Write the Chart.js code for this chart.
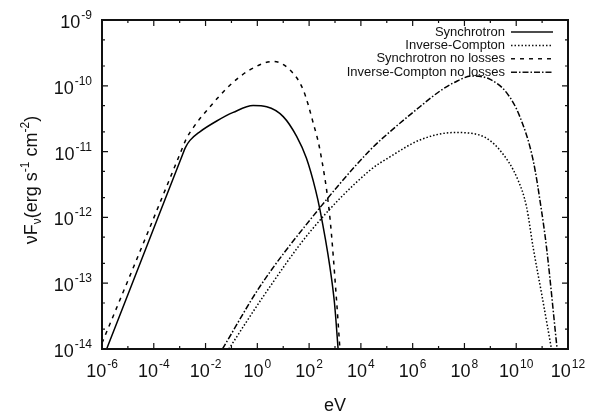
<!DOCTYPE html>
<html>
<head>
<meta charset="utf-8">
<script src="https://cdn.jsdelivr.net/npm/chart.js@4/dist/chart.umd.min.js"></script>
<style>
body{ margin:0; background:#fff; }
canvas{ display:block; }
</style>
</head>
<body>
<canvas id="chart" width="590" height="418"></canvas>
<script>

/* DATA (eV , erg s-1 cm-2) */

const syncE = [1.51e-6, 5.0e-5, 1.12e-3, 1.7e-3, 2.5e-3, 6.0e-3, 2.7e-2, 0.117, 0.69, 2.3, 10, 33, 79, 178, 263, 631, 955, 1318];
const syncF = [1e-14, 3.39e-13, 7.76e-12, 1.17e-11, 1.48e-11, 2.0e-11, 2.92e-11, 3.94e-11, 5.0e-11, 4.8e-11, 3.4e-11, 1.7e-11, 7.9e-12, 2.6e-12, 1.3e-12, 1.8e-13, 5e-14, 1e-14];

const icE = [7.9e-2, 1.7, 107, 2.24e4, 1.32e5, 1.9e6, 4.0e7, 3.9e8, 2.34e9, 1.17e10, 2.5e10, 4.5e10, 1e11, 2.3e11];
const icF = [1e-14, 6.3e-14, 6.0e-13, 5.2e-12, 8.3e-12, 1.5e-11, 1.95e-11, 1.78e-11, 1.05e-11, 3.7e-12, 1.45e-12, 3.5e-13, 6.3e-14, 1e-14];

const syncNlE = [1e-6, 3.2e-5, 1.12e-3, 1.78e-3, 3.4e-3, 1.48e-2, 8.7e-2, 0.51, 4.1, 18.2, 59, 145, 263, 631, 1148, 1549];
const syncNlF = [1.23e-14, 3.3e-13, 1.0e-11, 1.55e-11, 2.34e-11, 4.8e-11, 1.02e-10, 1.74e-10, 2.35e-10, 1.74e-10, 8.7e-11, 2.7e-11, 1.05e-11, 1.02e-12, 5.5e-14, 1e-14];

const icNlE = [4.5e-2, 1.26, 107, 2.24e4, 1.32e5, 1.9e6, 1.12e7, 4.0e7, 2.0e8, 9.5e8, 4.3e9, 1.38e10, 4.5e10, 9.5e10, 1.48e11, 3.8e11];
const icNlF = [1e-14, 8.9e-14, 9.1e-13, 1.05e-11, 2.0e-11, 4.8e-11, 8.3e-11, 1.12e-10, 1.41e-10, 1.26e-10, 7.8e-11, 3.4e-11, 7.4e-12, 1.26e-12, 3.5e-13, 1e-14];

const seriesNames = ["Synchrotron", "Inverse-Compton", "Synchrotron no losses", "Inverse-Compton no losses"];

/* TICKS */

const xLabelPowers = [-6, -4, -2, 0, 2, 4, 6, 8, 10, 12];
const xMinorPowers = [-5, -3, -1, 1, 3, 5, 7, 9, 11];
const yLabelPowers = [-14, -13, -12, -11, -10, -9];
const yMinorMantissa = [2, 5];

const FONT = '"Liberation Sans", Arial, Helvetica, sans-serif';

function toPoints(xs, ys){
    return xs.map((v, i) => ({ x: v, y: ys[i] }));
}

const dashes = [ [], [1.5, 2], [4, 5], [6, 2, 1.5, 2] ];

const datasets = [
    toPoints(syncE, syncF),
    toPoints(icE, icF),
    toPoints(syncNlE, syncNlF),
    toPoints(icNlE, icNlF)
].map((pts, i) => ({
    label: seriesNames[i],
    data: pts,
    borderColor: "#000",
    borderWidth: 1.5,
    borderDash: dashes[i],
    pointRadius: 0,
    fill: false,
    cubicInterpolationMode: "monotone"
}));

/* POWER OF TEN LABEL */

function powWidth(ctx, exp){
    ctx.font = "18px " + FONT;
    const w1 = ctx.measureText("10").width;
    ctx.font = "12px " + FONT;
    const w2 = ctx.measureText(String(exp)).width;
    return [w1, w2];
}

function drawPow(ctx, exp, left, base){
    const [w1] = powWidth(ctx, exp);
    ctx.textAlign = "left";
    ctx.textBaseline = "alphabetic";
    ctx.font = "18px " + FONT;
    ctx.fillText("10", left, base);
    ctx.font = "12px " + FONT;
    ctx.fillText(String(exp), left + w1 + 1, base - 9);
}

/* FRAME, TICKS, LABELS, LEGEND */

const framePlugin = {
    id: "frame",
    afterDraw(chart){

        const ctx = chart.ctx;
        const a = chart.chartArea;
        const xs = chart.scales.x;
        const ys = chart.scales.y;

        ctx.save();
        ctx.fillStyle = "#111";
        ctx.strokeStyle = "#111";

        // ticks
        ctx.lineWidth = 1.2;
        ctx.beginPath();
        xLabelPowers.concat(xMinorPowers).forEach(p => {
            const px = xs.getPixelForValue(Math.pow(10, p));
            const len = xLabelPowers.includes(p) ? 6 : 3;
            ctx.moveTo(px, a.bottom); ctx.lineTo(px, a.bottom - len);
            ctx.moveTo(px, a.top); ctx.lineTo(px, a.top + len);
        });
        yLabelPowers.forEach(p => {
            const py = ys.getPixelForValue(Math.pow(10, p));
            ctx.moveTo(a.left, py); ctx.lineTo(a.left + 6, py);
            ctx.moveTo(a.right, py); ctx.lineTo(a.right - 6, py);
            if(p < -9){
                yMinorMantissa.forEach(m => {
                    const pm = ys.getPixelForValue(m * Math.pow(10, p));
                    ctx.moveTo(a.left, pm); ctx.lineTo(a.left + 3, pm);
                    ctx.moveTo(a.right, pm); ctx.lineTo(a.right - 3, pm);
                });
            }
        });
        ctx.stroke();

        // border
        ctx.lineWidth = 2;
        ctx.strokeRect(a.left, a.top, a.right - a.left, a.bottom - a.top);

        // x labels
        xLabelPowers.forEach(p => {
            const px = xs.getPixelForValue(Math.pow(10, p));
            const [w1, w2] = powWidth(ctx, p);
            drawPow(ctx, p, px - (w1 + w2 + 1) / 2, 377);
        });

        // y labels
        yLabelPowers.forEach(p => {
            const py = ys.getPixelForValue(Math.pow(10, p));
            const [w1, w2] = powWidth(ctx, p);
            drawPow(ctx, p, 92 - (w1 + w2 + 1), py + 8);
        });

        // x title
        ctx.font = "18px " + FONT;
        ctx.textAlign = "center";
        ctx.textBaseline = "middle";
        ctx.fillText("eV", 335, 406);

        // y title
        const parts = [
            ["\u03bdF", 18, 0],
            ["\u03bd", 12, 4],
            ["(erg s", 18, 0],
            ["-1", 12, -8],
            [" cm", 18, 0],
            ["-2", 12, -8],
            [")", 18, 0]
        ];
        let total = 0;
        parts.forEach(pt => {
            ctx.font = pt[1] + "px " + FONT;
            pt.push(ctx.measureText(pt[0]).width);
            total += pt[3];
        });
        ctx.translate(37, 180);
        ctx.rotate(-Math.PI / 2);
        ctx.textAlign = "left";
        ctx.textBaseline = "alphabetic";
        let cx = -total / 2;
        parts.forEach(pt => {
            ctx.font = pt[1] + "px " + FONT;
            ctx.fillText(pt[0], cx, pt[2]);
            cx += pt[3];
        });
        ctx.setTransform(1, 0, 0, 1, 0, 0);

        // legend
        ctx.font = "13px " + FONT;
        ctx.textAlign = "right";
        ctx.textBaseline = "middle";
        ctx.lineWidth = 1.5;
        seriesNames.forEach((name, i) => {
            const ly = 32 + i * 13.4;
            ctx.fillText(name, 505, ly);
            ctx.setLineDash(dashes[i]);
            ctx.beginPath();
            ctx.moveTo(511, ly);
            ctx.lineTo(553, ly);
            ctx.stroke();
        });
        ctx.setLineDash([]);

        ctx.restore();
    }
};

/* CHART */

new Chart(document.getElementById("chart"), {
    type: "line",
    data: { datasets: datasets },
    options: {
        responsive: false,
        devicePixelRatio: 1,
        animation: false,
        events: [],
        layout: {
            padding: { left: 102, top: 20, right: 22, bottom: 69 }
        },
        plugins: {
            legend: { display: false },
            tooltip: { enabled: false }
        },
        scales: {
            x: {
                type: "logarithmic",
                min: 1e-6,
                max: 1e12,
                display: false
            },
            y: {
                type: "logarithmic",
                min: 1e-14,
                max: 1e-9,
                display: false
            }
        }
    },
    plugins: [framePlugin]
});

</script>
</body>
</html>
